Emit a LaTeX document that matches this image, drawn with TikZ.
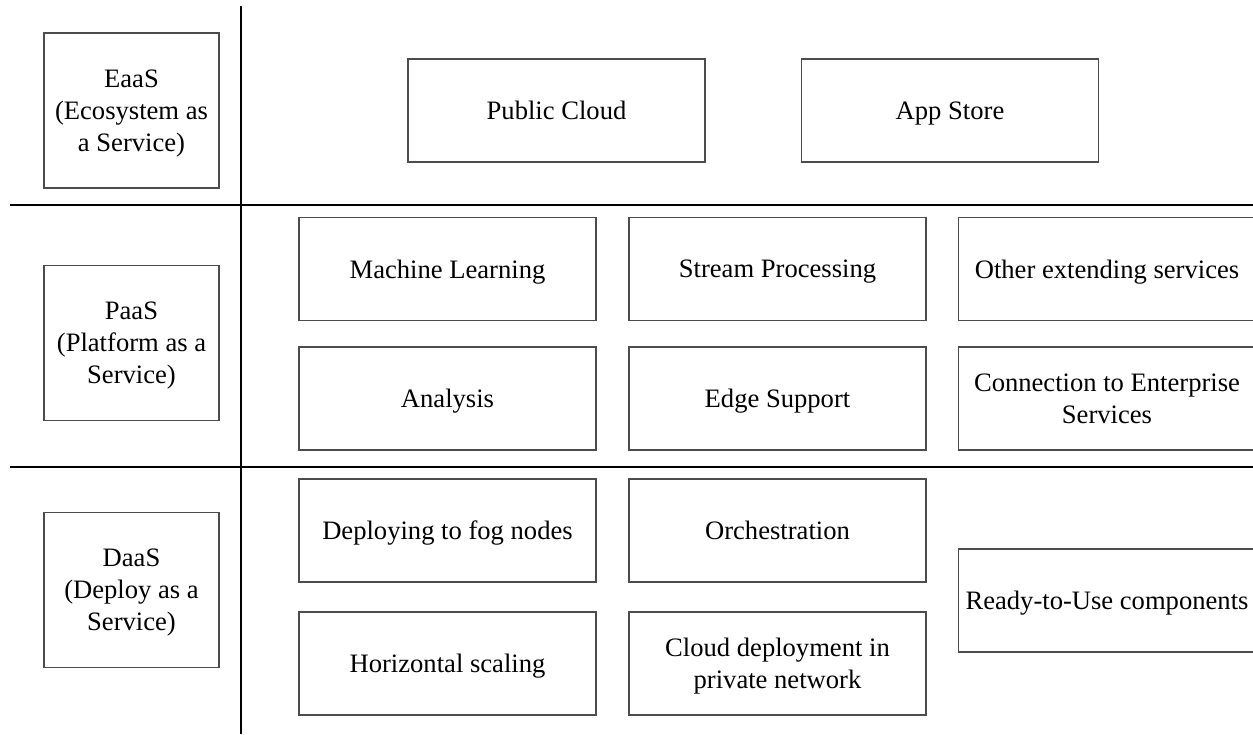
\documentclass[tikz,border=0pt]{standalone}
\usepackage{fontspec}
\setmainfont{Liberation Serif}
\begin{document}
\begin{tikzpicture}[x=1pt,y=-1pt,
  box/.style={draw=black!70, line width=1.3pt, minimum width=297pt, minimum height=103pt, align=center, inner sep=0pt,
    font=\fontsize{26.6}{32}\selectfont, text depth=0pt},
  lbox/.style={box, minimum width=175pt, minimum height=155pt},
  sep/.style={line width=2.8pt, black}]
\useasboundingbox (0,0) rectangle (1253,734);
% separators
\coordinate (vt) at (241,6);
\coordinate (vb) at (241,734);
\coordinate (h1l) at (10,205);
\coordinate (h1r) at (1253,205);
\coordinate (h2l) at (10,467);
\coordinate (h2r) at (1253,467);
\draw[sep] (vt) -- (vb);
\draw[sep] (h1l) -- (h1r);
\draw[sep] (h2l) -- (h2r);
% left labels
\node[lbox] (eaas) at (131.5,110.5) {EaaS\\(Ecosystem as\\a Service)};
\node[lbox] (paas) at (131.5,343) {PaaS\\(Platform as a\\Service)};
\node[lbox] (daas) at (131.5,590) {DaaS\\(Deploy as a\\Service)};
% EaaS row
\node[box] (pc) at (556.5,110.5) {Public Cloud};
\node[box] (as) at (950,110.5) {App Store};
% PaaS rows
\node[box] (ml) at (447.5,269) {Machine Learning};
\node[box] (sp) at (777.5,269) {Stream Processing};
\node[box] (oe) at (1107,269) {Other extending services};
\node[box] (an) at (447.5,398.5) {Analysis};
\node[box] (es) at (777.5,398.5) {Edge Support};
\node[box] (ce) at (1107,398.5) {Connection to Enterprise\\Services};
% DaaS rows
\node[box] (df) at (447.5,530.5) {Deploying to fog nodes};
\node[box] (or) at (777.5,530.5) {Orchestration};
\node[box] (hs) at (447.5,663.5) {Horizontal scaling};
\node[box] (cd) at (777.5,663.5) {Cloud deployment in\\private network};
\node[box] (ru) at (1107,600.5) {Ready-to-Use components};
\end{tikzpicture}
\end{document}
